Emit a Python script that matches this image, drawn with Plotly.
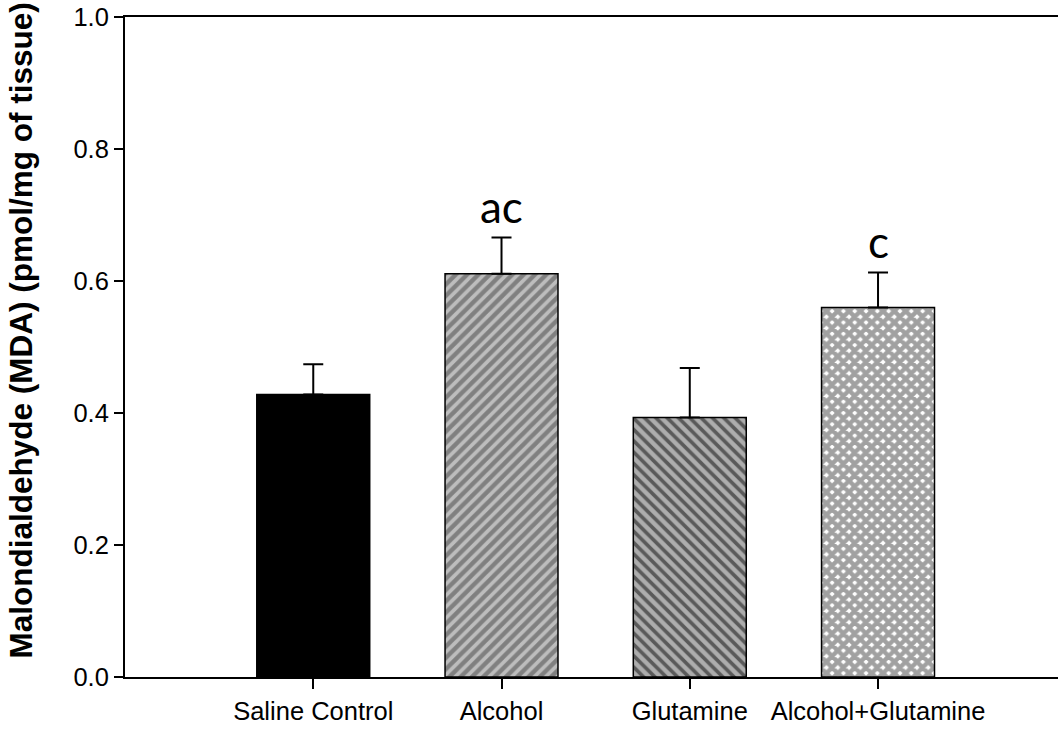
import plotly.graph_objects as go

categories = ["Saline Control", "Alcohol", "Glutamine", "Alcohol+Glutamine"]
mda_means = [0.428, 0.611, 0.393, 0.560]
mda_sem = [0.046, 0.055, 0.075, 0.053]
bar_colors = ["#000000", "#bdbdbd", "#5a5a5a", "#ffffff"]
pattern_shapes = ["", "/", "\\", "x"]
pattern_solidity = [0.5, 0.55, 0.55, 0.8]
sig_labels = ["", "ac", "", "c"]
y_ticks = [0.0, 0.2, 0.4, 0.6, 0.8, 1.0]

ARIAL = "Arial, Liberation Sans, Arimo, sans-serif"

fig = go.Figure()
fig.add_trace(go.Bar(
    x=categories,
    y=mda_means,
    width=0.6,
    marker=dict(
        color=bar_colors,
        line=dict(color="black", width=1.5),
        pattern=dict(shape=pattern_shapes, fgcolor="black", size=8,
                     solidity=pattern_solidity, fillmode="overlay"),
    ),
    error_y=dict(type="data", array=mda_sem, arrayminus=[0] * len(mda_sem),
                 symmetric=False, color="black", thickness=2, width=10),
    showlegend=False,
))

for cat, m, e, lab in zip(categories, mda_means, mda_sem, sig_labels):
    if lab:
        fig.add_annotation(x=cat, y=m + e + 0.047, text=lab, showarrow=False,
                           xref="x", yref="y", yanchor="middle",
                           font=dict(family="Lato, Carlito, sans-serif", size=44, color="black"))

fig.add_annotation(
    xref="paper", yref="paper", x=-0.1115, y=0.525, xanchor="center", yanchor="middle",
    text="Malondialdehyde (MDA) (pmol/mg of tissue)", textangle=-90, showarrow=False,
    font=dict(family=ARIAL, size=31.5, color="black", weight="bold"),
)

fig.update_layout(
    width=1058, height=731,
    margin=dict(l=125, r=0, t=17, b=54),
    plot_bgcolor="white", paper_bgcolor="white",
    font=dict(family=ARIAL, size=25, color="black"),
    xaxis=dict(range=[-1, 3.956], showline=True, linecolor="black", linewidth=2,
               mirror=True, ticks="outside", ticklen=10, tickwidth=1.5,
               tickcolor="black", showgrid=False, zeroline=False,
               tickfont=dict(family=ARIAL, size=25.5, color="black")),
    yaxis=dict(range=[0, 1.0], tickvals=y_ticks, ticktext=[f"{v:.1f}" for v in y_ticks],
               showline=True, linecolor="black", linewidth=2, mirror=False,
               ticks="outside", ticklen=9, tickwidth=1.5, tickcolor="black",
               showgrid=False, zeroline=False,
               tickfont=dict(family=ARIAL, size=25.5, color="black")),
)

fig.write_html("out.html")
